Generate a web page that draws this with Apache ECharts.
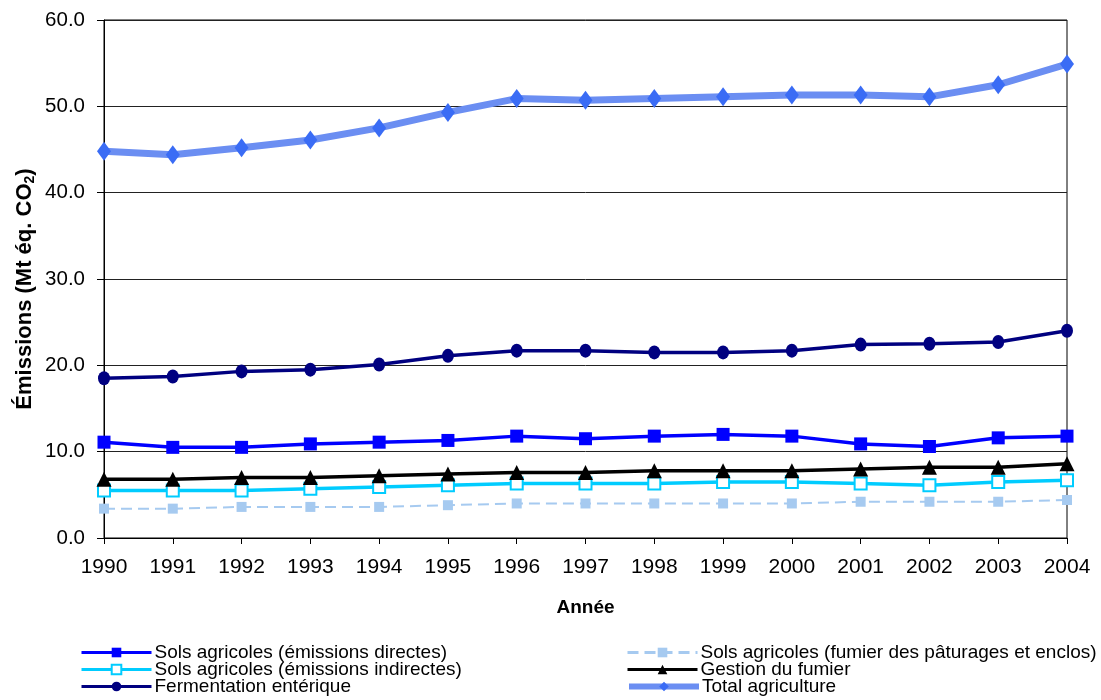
<!DOCTYPE html>
<html><head><meta charset="utf-8">
<script src="https://cdn.jsdelivr.net/npm/echarts@6/dist/echarts.min.js"></script>
<style>html,body{margin:0;padding:0;background:#fff}#c{width:1101px;height:700px}</style>
</head><body><div id="c"></div>
<script>
const years = ['1990','1991','1992','1993','1994','1995','1996','1997','1998','1999','2000','2001','2002','2003','2004'];
const solsDirectes = [11.1,10.5,10.5,10.9,11.1,11.3,11.8,11.5,11.8,12.0,11.8,10.9,10.6,11.6,11.8];
const solsPaturages = [3.4,3.4,3.6,3.6,3.6,3.8,4.0,4.0,4.0,4.0,4.0,4.2,4.2,4.2,4.4];
const solsIndirectes = [5.5,5.5,5.5,5.7,5.9,6.1,6.3,6.3,6.3,6.5,6.5,6.3,6.1,6.5,6.7];
const gestionFumier = [6.8,6.8,7.0,7.0,7.2,7.4,7.6,7.6,7.8,7.8,7.8,8.0,8.2,8.2,8.6];
const fermentation = [18.5,18.7,19.3,19.5,20.1,21.1,21.7,21.7,21.5,21.5,21.7,22.4,22.5,22.7,24.0];
const totalAgri = [44.8,44.4,45.2,46.1,47.5,49.3,50.9,50.7,50.9,51.1,51.3,51.3,51.1,52.5,54.9];
const yTicks = [0,10,20,30,40,50,60];

const F = 'Liberation Sans, Arial, sans-serif';
const names = {
  d:'Sols agricoles (émissions directes)',
  p:'Sols agricoles (fumier des pâturages et enclos)',
  i:'Sols agricoles (émissions indirectes)',
  g:'Gestion du fumier',
  f:'Fermentation entérique',
  t:'Total agriculture'
};
const chart = echarts.init(document.getElementById('c'), null, {renderer:'canvas'});
const legendItems = [
  [names.d, 80, 643], [names.i, 80, 660], [names.f, 80, 677],
  [names.p, 626, 643], [names.g, 626, 660], [names.t, 626, 677]
];
const legends = legendItems.map(([n, x, y]) => ({
  left:x, top:y, orient:'horizontal', itemWidth:70, itemHeight:12, padding:0,
  textStyle:{fontFamily:F, fontSize:19, color:'#000', lineHeight:16, padding:[0,0,0,-2]},
  data:[{name:n, lineStyle:{width: n === names.t ? 6 : 3}}]
}));
chart.setOption({
  animation:false,
  backgroundColor:'#fff',
  grid:{left:104, right:34, top:20, bottom:162, show:true, borderColor:'#000', borderWidth:1},
  legend:legends,
  graphic:[{
    type:'text', x:25, y:289, rotation:Math.PI/2,
    style:{text:'Émissions (Mt éq. CO{s|2})', align:'center', verticalAlign:'middle',
      fontFamily:F, fontSize:22, fontWeight:'bold', fill:'#000',
      rich:{s:{fontFamily:F, fontSize:14, fontWeight:'bold', fill:'#000', padding:[10,0,0,0]}}}
  }],
  xAxis:{type:'category', data:years, boundaryGap:false,
    axisLine:{lineStyle:{color:'#000', width:1}},
    axisTick:{show:true, length:6, lineStyle:{color:'#000'}},
    axisLabel:{fontFamily:F, fontSize:21, color:'#000', margin:19},
    name:'Année', nameLocation:'middle', nameGap:60,
    nameTextStyle:{fontFamily:F, fontSize:19, fontWeight:'bold', color:'#000'}
  },
  yAxis:{type:'value', min:yTicks[0], max:yTicks[yTicks.length-1], interval:10,
    axisLine:{show:true, lineStyle:{color:'#000'}},
    axisTick:{show:true, length:7, lineStyle:{color:'#000'}},
    splitLine:{lineStyle:{color:'#222', width:1}},
    axisLabel:{fontFamily:F, fontSize:20.5, color:'#000', margin:19, formatter:v=>v.toFixed(1)}
  },
  series:[
    {name:names.p, type:'line', data:solsPaturages, symbol:'rect', symbolSize:10,
      lineStyle:{color:'#a6caf0', width:2, type:[11,6]}, itemStyle:{color:'#a6caf0'}, z:2},
    {name:names.i, type:'line', data:solsIndirectes, symbol:'emptyRect', symbolSize:12,
      lineStyle:{color:'#00ccff', width:3.5}, itemStyle:{color:'#00ccff', borderWidth:2}, z:3},
    {name:names.g, type:'line', data:gestionFumier, symbol:'triangle', symbolSize:[15,15],
      lineStyle:{color:'#000', width:3.5}, itemStyle:{color:'#000'}, z:4},
    {name:names.d, type:'line', data:solsDirectes, symbol:'rect', symbolSize:13,
      lineStyle:{color:'#0000ff', width:3.5}, itemStyle:{color:'#0000ff'}, z:5},
    {name:names.f, type:'line', data:fermentation, symbol:'circle', symbolSize:[12,14],
      lineStyle:{color:'#000080', width:3.5}, itemStyle:{color:'#000080'}, z:6},
    {name:names.t, type:'line', data:totalAgri, symbol:'diamond', symbolSize:[14,19],
      lineStyle:{color:'#6b8ef2', width:7}, itemStyle:{color:'#3a6cf5'}, z:7}
  ]
});
</script></body></html>
